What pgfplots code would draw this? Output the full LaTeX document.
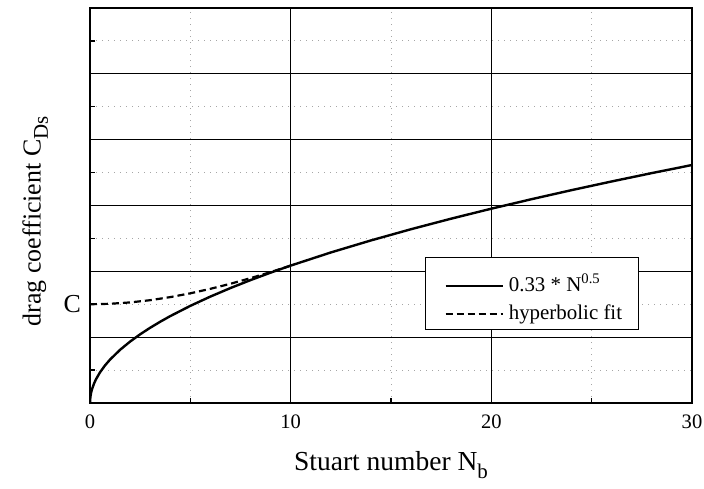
\documentclass[border=0pt]{standalone}
\usepackage{fontspec}
\setmainfont{Liberation Serif}
\usepackage{pgfplots}
\pgfplotsset{compat=1.18}
\newcommand\lowsub[1]{\raisebox{-0.6ex}{\fontsize{10.5}{12}\selectfont #1}}
\begin{document}
\begin{tikzpicture}
\useasboundingbox (-45bp,-43bp) rectangle (307bp,201.5bp);
\begin{axis}[
  scale only axis, width=301bp, height=197.5bp,
  xmin=0, xmax=30, ymin=0, ymax=3,
  xtick={0,10,20,30}, xticklabels={0,10,20,30},
  minor xtick={5,15,25},
  ytick={0,0.5,1,1.5,2,2.5,3}, yticklabels={,,,,,,},
  minor ytick={0.25,0.75,1.25,1.75,2.25,2.75},
  extra y ticks={0.75}, extra y tick labels={C},
  extra y tick style={grid=none, major tick length=2.5bp,
     yticklabel style={font=\fontsize{13}{15}\selectfont, xshift=-1bp}},
  tick align=inside, xtick pos=bottom, ytick pos=left,
  major tick length=5bp, minor tick length=2.5bp,
  every tick/.style={black, line width=0.6bp},
  grid=both,
  major grid style={black, line width=0.5bp},
  minor grid style={gray!70, line width=0.45bp, dash pattern=on 0.5bp off 2.5bp},
  axis line style={line width=1bp},
  tick label style={font=\fontsize{10.3}{12}\selectfont},
  xticklabel style={yshift=-2.5bp},
  xlabel={Stuart number N\lowsub{b}},
  ylabel={drag coefficient C\lowsub{Ds}},
  xlabel style={font=\fontsize{13.8}{16}\selectfont, at={(axis description cs:0.5,-0.172)}, anchor=base},
  ylabel style={font=\fontsize{13}{15}\selectfont, at={(axis description cs:-0.082,0.46)}, anchor=base, rotate=0},
  legend style={at={(axis cs:16.69,1.109)}, anchor=north west, draw=black,
     line width=0.5bp, fill=white, font=\fontsize{10.5}{12}\selectfont,
     inner xsep=8bp, inner ysep=1bp, row sep=0bp,
     nodes={inner sep=0bp, text depth={}, text height={}},
     cells={anchor=base west}},
  legend image code/.code={\path (0bp,0bp) (32.5bp,0bp); \draw[#1] (1.5bp,2.8bp) -- (30bp,2.8bp);},
]
\addplot[black, line width=1.2bp] coordinates {
 (0,0) (0.02,0.0467) (0.05,0.0738) (0.1,0.1044) (0.2,0.1476) (0.3,0.1807)
 (0.5,0.2333) (0.75,0.2858) (1,0.33) (1.5,0.4042) (2,0.4667) (2.5,0.5218)
 (3,0.5716) (3.5,0.6174) (4,0.66) (5,0.7379) (6,0.8083) (7,0.8731) (8,0.9334)
 (9,0.99) (10,1.0436) (12,1.1432) (14,1.2347) (16,1.32) (18,1.4001)
 (20,1.4758) (22,1.5478) (24,1.6167) (26,1.6827) (28,1.7462) (30,1.8075)
};
\addlegendentry{\rule[-3bp]{0pt}{19bp}0.33 * N\textsuperscript{0.5}}
\addplot[black, line width=1.1bp, dash pattern=on 3.5bp off 2bp] coordinates {
 (0,0.75) (1,0.7535) (2,0.7639) (3,0.7809) (4,0.8042) (5,0.8331) (6,0.8671)
 (7,0.9057) (8,0.9482) (9,0.9943) (10,1.0433)
};
\addlegendentry{\rule[-4bp]{0pt}{15bp}hyperbolic fit}
\end{axis}
\end{tikzpicture}
\end{document}
